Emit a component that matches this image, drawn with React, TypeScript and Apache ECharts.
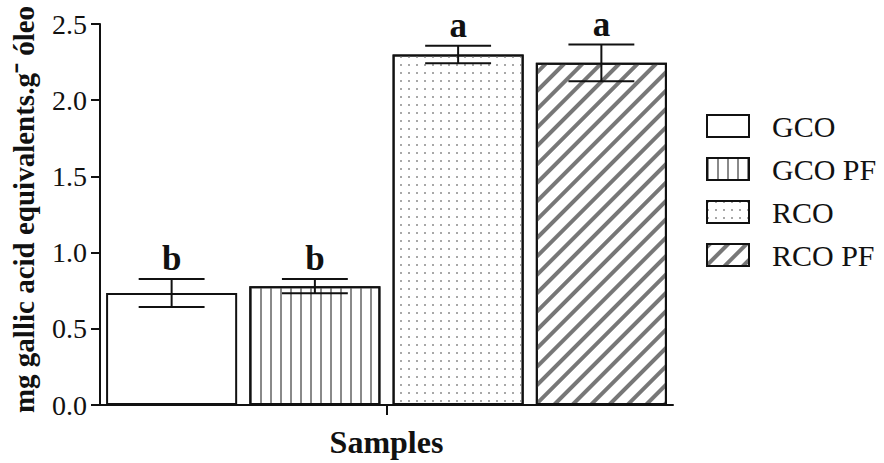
import React, { useEffect, useRef } from "react";
import * as echarts from "echarts";

const categories = ["GCO", "GCO PF", "RCO", "RCO PF"];
const means = [0.735, 0.78, 2.3, 2.245];
const errors = [0.092, 0.047, 0.058, 0.12];
const letters = ["b", "b", "a", "a"];
const yMin = 0;
const yMax = 2.5;
const yInterval = 0.5;

const FONT = "'Liberation Serif', 'Times New Roman', serif";
const INK = "#111";

const decals: any[] = [
  null,
  {
    symbol: "rect",
    symbolSize: 1,
    symbolKeepAspect: false,
    color: "#8a8a8a",
    backgroundColor: "#fff",
    dashArrayX: [[2, 8]],
    dashArrayY: [4, 0],
  },
  {
    symbol: "rect",
    symbolSize: 1,
    symbolKeepAspect: false,
    color: "#a8a8a8",
    backgroundColor: "#fff",
    dashArrayX: [[2, 6]],
    dashArrayY: [2, 6],
  },
  {
    symbol: "rect",
    symbolSize: 1,
    symbolKeepAspect: false,
    color: "#777",
    backgroundColor: "#fff",
    dashArrayX: [[4, 9]],
    dashArrayY: [4, 0],
    rotation: Math.PI / 4,
  },
];

export default function App() {
  const ref = useRef<HTMLDivElement>(null);
  useEffect(() => {
    if (!ref.current) return;
    const chart = echarts.init(ref.current, undefined, { renderer: "svg" });
    const barSeries = categories.map((name, i) => {
      const itemStyle: any = {
        color: "#fff",
        borderColor: INK,
        borderWidth: 2,
      };
      if (decals[i]) itemStyle.decal = decals[i];
      return {
        name,
        type: "bar",
        xAxisIndex: 1,
        stack: "all",
        barCategoryGap: "8.5%",
        data: categories.map((_, j) => (j === i ? means[i] : "-")),
        itemStyle,
        z: 2,
      };
    });
    const errSeries = {
      type: "custom",
      xAxisIndex: 1,
      z: 5,
      data: categories.map((_, i) => [i, means[i] - errors[i], means[i] + errors[i]]),
      renderItem: (params: any, api: any) => {
        const x = api.value(0);
        const pLo = api.coord([x, api.value(1)]);
        const pHi = api.coord([x, api.value(2)]);
        const half = api.size([1, 0])[0] * 0.23;
        const ls = { stroke: INK, lineWidth: 2 };
        return {
          type: "group",
          children: [
            { type: "line", shape: { x1: pLo[0], y1: pLo[1], x2: pHi[0], y2: pHi[1] }, style: ls },
            { type: "line", shape: { x1: pHi[0] - half, y1: pHi[1], x2: pHi[0] + half, y2: pHi[1] }, style: ls },
            { type: "line", shape: { x1: pLo[0] - half, y1: pLo[1], x2: pLo[0] + half, y2: pLo[1] }, style: ls },
            {
              type: "text",
              x: pHi[0],
              y: pHi[1] - 3,
              style: {
                text: letters[params.dataIndex],
                fontSize: 35,
                fontWeight: "bold",
                fontFamily: FONT,
                fill: INK,
                align: "center",
                verticalAlign: "bottom",
              },
            },
          ],
        };
      },
    };
    chart.setOption({
      animation: false,
      backgroundColor: "#fff",
      grid: { left: 100, right: 211, top: 24, bottom: 58, containLabel: false },
      legend: {
        orient: "vertical",
        left: 706,
        top: 111,
        padding: 0,
        icon: "rect",
        itemWidth: 42,
        itemHeight: 22,
        itemGap: 13,
        data: categories,
        textStyle: { fontSize: 30, fontFamily: FONT, color: INK, padding: [0, 0, 0, 18] },
      },
      xAxis: [
        {
          type: "category",
          data: [""],
          position: "bottom",
          axisLine: { show: true, lineStyle: { color: INK, width: 2 } },
          axisTick: { show: true, alignWithLabel: true, length: 10, lineStyle: { color: INK, width: 2 } },
          axisLabel: { show: false },
          name: "Samples",
          nameLocation: "middle",
          nameGap: 21,
          nameTextStyle: { fontSize: 32, fontWeight: "bold", fontFamily: FONT, color: INK },
        },
        {
          type: "category",
          data: categories,
          show: false,
          position: "bottom",
        },
      ],
      yAxis: {
        type: "value",
        min: yMin,
        max: yMax,
        interval: yInterval,
        axisLine: { show: true, lineStyle: { color: INK, width: 2 } },
        axisTick: { show: true, length: 9, lineStyle: { color: INK, width: 2 } },
        axisLabel: {
          fontSize: 28,
          fontFamily: FONT,
          color: INK,
          margin: 13,
          formatter: (v: number) => v.toFixed(1),
        },
        splitLine: { show: false },
        name: "mg gallic acid equivalents.g\u207B óleo",
        nameLocation: "middle",
        nameGap: 62,
        nameTextStyle: { fontSize: 29, fontWeight: "bold", fontFamily: FONT, color: INK, padding: [0, 0, 0, 10] },
      },
      series: [...barSeries, errSeries],
    });
    return () => chart.dispose();
  }, []);
  return (
    <div
      ref={ref}
      style={{ position: "fixed", left: 0, top: 0, width: 884, height: 463 }}
    />
  );
}
